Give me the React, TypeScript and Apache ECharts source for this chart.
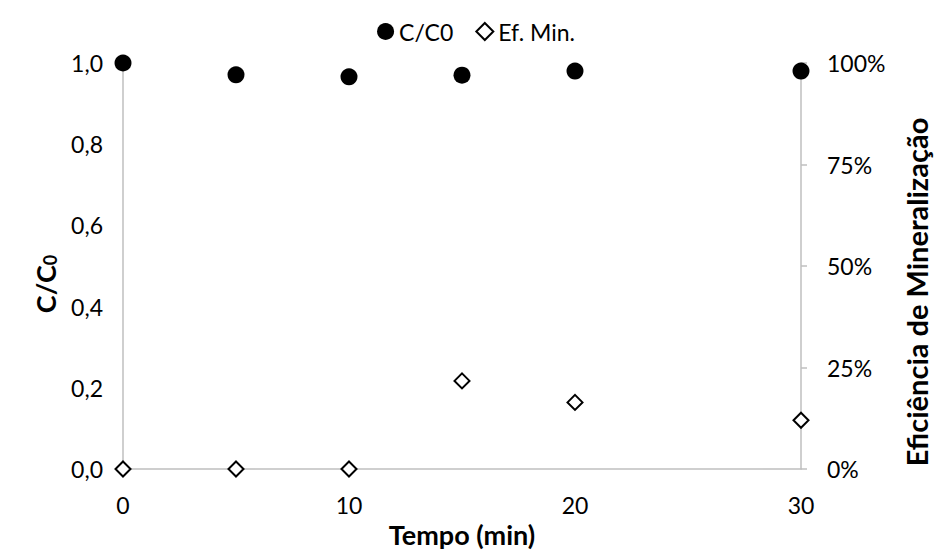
import React, { useEffect, useRef } from "react";
import * as echarts from "echarts";

const tempo = [0, 5, 10, 15, 20, 30];
const cC0 = [1.0, 0.971, 0.966, 0.97, 0.98, 0.98];
const efMin = [0, 0, 0, 0.217, 0.164, 0.12];
const seriesNames = ["C/C0", "Ef. Min."];

const FONT = "Lato, 'Open Sans', sans-serif";

export default function App() {
  const ref = useRef<HTMLDivElement>(null);
  useEffect(() => {
    const chart = echarts.init(ref.current!, undefined, { renderer: "svg" });
    const axisLine = { show: true, lineStyle: { color: "#bfbfbf", width: 1.5 } };
    chart.setOption({
      animation: false,
      backgroundColor: "#fff",
      textStyle: { fontFamily: FONT },
      legend: {
        top: 15,
        left: "center",
        itemWidth: 17,
        itemHeight: 17,
        itemGap: 22,
        textStyle: { fontSize: 23, color: "#000", fontFamily: FONT },
        data: [
          { name: seriesNames[0], icon: "circle" },
          { name: seriesNames[1], icon: "diamond" },
        ],
      },
      grid: { left: 123, right: 151, top: 63, bottom: 88 },
      xAxis: {
        type: "value",
        min: 0,
        max: 30,
        interval: 10,
        name: "Tempo (min)",
        nameLocation: "middle",
        nameGap: 50,
        nameTextStyle: { fontSize: 27, fontWeight: "bold", color: "#000", fontFamily: FONT },
        axisLine,
        axisTick: { show: false },
        splitLine: { show: false },
        axisLabel: { fontSize: 23, color: "#000", margin: 24, fontFamily: FONT },
      },
      yAxis: [
        {
          type: "value",
          min: 0,
          max: 1,
          interval: 0.2,
          position: "left",
          name: "{a|C/C}{b|0}",
          nameLocation: "middle",
          nameRotate: 90,
          nameGap: 64,
          nameTextStyle: {
            padding: [0, 36, 0, 0],
            rich: {
              a: { fontSize: 27, fontWeight: "bold", color: "#000", fontFamily: FONT },
              b: { fontSize: 18, fontWeight: "bold", color: "#000", fontFamily: FONT, padding: [10, 0, 0, 0] },
            },
          },
          axisLine,
          axisTick: { show: false },
          splitLine: { show: false },
          axisLabel: {
            fontSize: 23,
            color: "#000",
            margin: 20,
            fontFamily: FONT,
            formatter: (v: number) => v.toFixed(1).replace(".", ","),
          },
        },
        {
          type: "value",
          min: 0,
          max: 1,
          interval: 0.25,
          position: "right",
          name: "Eficiência de Mineralização",
          nameLocation: "middle",
          nameRotate: 90,
          nameGap: 101,
          nameTextStyle: {
            fontSize: 29,
            fontWeight: "bold",
            color: "#000",
            fontFamily: FONT,
            padding: [0, 52, 0, 0],
          },
          axisLine,
          axisTick: { show: true, length: 6, inside: false, lineStyle: { color: "#bfbfbf", width: 1.5 } },
          splitLine: { show: false },
          axisLabel: {
            fontSize: 23,
            color: "#000",
            margin: 26,
            fontFamily: FONT,
            formatter: (v: number) => Math.round(v * 100) + "%",
          },
        },
      ],
      series: [
        {
          name: seriesNames[0],
          type: "scatter",
          yAxisIndex: 0,
          symbol: "circle",
          symbolSize: 17,
          itemStyle: { color: "#000", opacity: 1 },
          data: tempo.map((t, i) => [t, cC0[i]]),
          z: 3,
        },
        {
          name: seriesNames[1],
          type: "scatter",
          yAxisIndex: 1,
          symbol: "diamond",
          symbolSize: 15,
          itemStyle: { color: "#fff", borderColor: "#000", borderWidth: 2, opacity: 1 },
          data: tempo.map((t, i) => [t, efMin[i]]),
          z: 4,
        },
      ],
    });
    return () => chart.dispose();
  }, []);
  return (
    <div
      ref={ref}
      style={{ position: "absolute", left: 0, top: 0, width: 952, height: 557 }}
    />
  );
}
